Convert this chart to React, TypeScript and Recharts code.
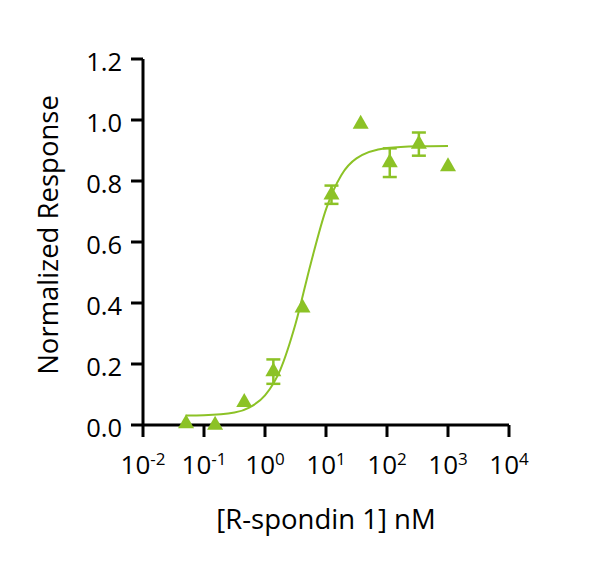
import React from "react";
import {
  ComposedChart,
  Scatter,
  Line,
  XAxis,
  YAxis,
  ErrorBar,
} from "recharts";

// R-spondin 1 concentrations (nM), 3-fold dilution series
const doses = [0.0508, 0.152, 0.457, 1.37, 4.12, 12.3, 37, 111, 333, 1000];
const meanResponse = [0.005, 0.0, 0.074, 0.175, 0.384, 0.755, 0.987, 0.86, 0.921, 0.847];
const responseErr = [null, null, null, 0.04, null, 0.03, null, 0.047, 0.038, null];

// fitted curve
const curveDoses = [0.05, 0.1, 0.316, 0.562, 1, 1.78, 3.16, 5.62, 10, 17.8, 31.6, 100, 316, 1000];
const curveResponse = [0.031, 0.032, 0.041, 0.058, 0.097, 0.181, 0.331, 0.529, 0.707, 0.819, 0.874, 0.908, 0.914, 0.915];

const xTicks = [0.01, 0.1, 1, 10, 100, 1000, 10000];
const yTicks = [0, 0.2, 0.4, 0.6, 0.8, 1.0, 1.2];

const GREEN = "#8cc226";

const points = doses.map((x, i) => ({
  x,
  y: meanResponse[i],
  err: responseErr[i] ?? undefined,
}));
const curve = curveDoses.map((x, i) => ({ x, y: curveResponse[i] }));

function Triangle(props: any) {
  const { cx, cy } = props;
  if (cx == null || cy == null) return null;
  const s = 16;
  const h = 14;
  return (
    <polygon
      points={`${cx},${cy - (2 * h) / 3} ${cx - s / 2},${cy + h / 3} ${cx + s / 2},${cy + h / 3}`}
      fill={GREEN}
    />
  );
}

function PowerTick(props: any) {
  const { x, y, payload } = props;
  const exp = Math.round(Math.log10(payload.value));
  return (
    <text x={x} y={y} dy={35} textAnchor="middle" fontSize={26} fill="#000">
      <tspan>10</tspan>
      <tspan dy={-9} fontSize={17}>
        {exp}
      </tspan>
    </text>
  );
}

function YTitle(props: any) {
  const vb = props.viewBox || {};
  const x = vb.x + 47;
  const y = vb.y + vb.height / 2 - 7;
  return (
    <text
      x={x}
      y={y}
      transform={`rotate(-90, ${x}, ${y})`}
      textAnchor="middle"
      dominantBaseline="central"
      fontSize={27.5}
      fill="#000"
    >
      Normalized Response
    </text>
  );
}

export default function App() {
  return (
    <div
      style={{
        position: "absolute",
        left: 0,
        top: 0,
        width: 600,
        height: 568,
        background: "#fff",
        fontFamily: "'Open Sans', sans-serif",
      }}
    >
      <ComposedChart
        width={600}
        height={568}
        margin={{ top: 59, right: 91, bottom: 0, left: 0 }}
      >
        <XAxis
          dataKey="x"
          type="number"
          scale="log"
          domain={[0.01, 10000]}
          ticks={xTicks}
          allowDataOverflow
          height={143}
          tickSize={12}
          axisLine={{ stroke: "#000", strokeWidth: 3 }}
          tickLine={{ stroke: "#000", strokeWidth: 3 }}
          tick={<PowerTick />}
          label={{
            value: "[R-spondin 1] nM",
            position: "insideTop",
            offset: 84,
            fontSize: 27.5,
            fill: "#000",
          }}
        />
        <YAxis
          type="number"
          domain={[0, 1.2]}
          ticks={yTicks}
          width={143}
          tickSize={12}
          tickMargin={9}
          tickFormatter={(v: number) => v.toFixed(1)}
          axisLine={{ stroke: "#000", strokeWidth: 3 }}
          tickLine={{ stroke: "#000", strokeWidth: 3 }}
          tick={{ fontSize: 25.5, fill: "#000", dy: 3 }}
          label={<YTitle />}
        />
        <Line
          data={curve}
          dataKey="y"
          type="monotone"
          stroke={GREEN}
          strokeWidth={2}
          dot={false}
          activeDot={false}
          isAnimationActive={false}
        />
        <Scatter
          data={points}
          dataKey="y"
          shape={<Triangle />}
          isAnimationActive={false}
        >
          <ErrorBar
            dataKey="err"
            direction="y"
            width={7}
            stroke={GREEN}
            strokeWidth={2.5}
            isAnimationActive={false}
          />
        </Scatter>
      </ComposedChart>
    </div>
  );
}
